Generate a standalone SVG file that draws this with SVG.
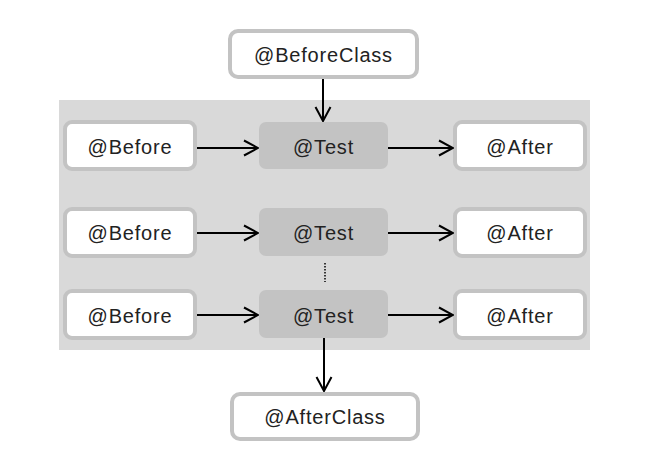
<svg xmlns="http://www.w3.org/2000/svg" width="654" height="450" viewBox="0 0 654 450">
<defs>
<style>
.n{fill:#fff;stroke:#c3c3c3;stroke-width:4}
.t{fill:#c3c3c3;stroke:none}
text{font-family:"Liberation Sans",Arial,sans-serif;font-size:20px;fill:#222;text-anchor:middle;dominant-baseline:central;letter-spacing:0.8px}
.c{stroke:#000;stroke-width:2;fill:none}
</style>
<marker id="a" viewBox="0 0 16 18" refX="15" refY="9" markerWidth="16" markerHeight="18" markerUnits="userSpaceOnUse" orient="auto">
<path d="M1,1.5 L15,9 L1,16.5" fill="none" stroke="#000" stroke-width="2"/>
</marker>
</defs>
<rect x="59" y="100" width="531" height="250" fill="#d9d9d9"/>
<g id="beforeclass"><rect class="n" x="230" y="31" width="187" height="46" rx="8"/><text x="323.5" y="55">@BeforeClass</text></g>
<g id="before1"><rect class="n" x="65" y="122" width="130" height="47" rx="7"/><text x="130" y="147">@Before</text></g>
<g id="test1"><rect class="t" x="259" y="122" width="129" height="47" rx="7"/><text x="323.5" y="147">@Test</text></g>
<g id="after1"><rect class="n" x="455" y="122" width="130" height="47" rx="7"/><text x="520" y="147">@After</text></g>
<g id="before2"><rect class="n" x="65" y="209" width="130" height="47" rx="7"/><text x="130" y="233">@Before</text></g>
<g id="test2"><rect class="t" x="259" y="208" width="129" height="48" rx="7"/><text x="323.5" y="233">@Test</text></g>
<g id="after2"><rect class="n" x="455" y="209" width="130" height="47" rx="7"/><text x="520" y="233">@After</text></g>
<g id="before3"><rect class="n" x="65" y="291" width="130" height="47" rx="7"/><text x="130" y="316">@Before</text></g>
<g id="test3"><rect class="t" x="259" y="290" width="129" height="48" rx="7"/><text x="323.5" y="316">@Test</text></g>
<g id="after3"><rect class="n" x="455" y="291" width="130" height="47" rx="7"/><text x="520" y="316">@After</text></g>
<g id="afterclass"><rect class="n" x="232" y="394" width="186" height="45" rx="8"/><text x="325" y="417">@AfterClass</text></g>
<g id="connectors">
<line class="c" x1="323" y1="79" x2="323" y2="121" marker-end="url(#a)"/>
<line class="c" x1="197" y1="148" x2="258" y2="148" marker-end="url(#a)"/>
<line class="c" x1="388" y1="148" x2="453" y2="148" marker-end="url(#a)"/>
<line class="c" x1="197" y1="233" x2="258" y2="233" marker-end="url(#a)"/>
<line class="c" x1="388" y1="233" x2="453" y2="233" marker-end="url(#a)"/>
<line class="c" x1="197" y1="315" x2="258" y2="315" marker-end="url(#a)"/>
<line class="c" x1="388" y1="315" x2="453" y2="315" marker-end="url(#a)"/>
<line class="c" x1="324" y1="338" x2="324" y2="391" marker-end="url(#a)"/>
<line x1="325" y1="263" x2="325" y2="282" stroke="#000" stroke-width="1.5" stroke-dasharray="1.5,1.5"/>
</g>
</svg>
